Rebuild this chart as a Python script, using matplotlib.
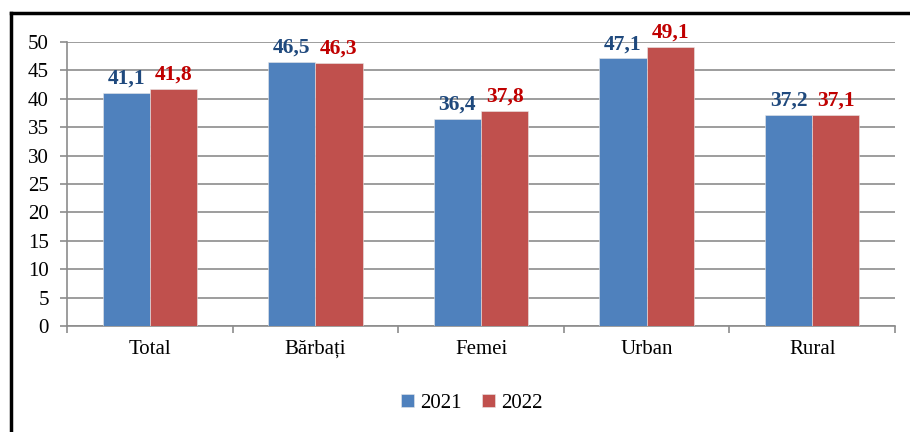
import matplotlib
matplotlib.use("Agg")
import matplotlib.pyplot as plt
import numpy as np
from matplotlib.lines import Line2D

categories = ["Total", "Bărbați", "Femei", "Urban", "Rural"]
series_names = ["2021", "2022"]
values_2021 = [41.1, 46.5, 36.4, 47.1, 37.2]
values_2022 = [41.8, 46.3, 37.8, 49.1, 37.1]
yticks = [0, 5, 10, 15, 20, 25, 30, 35, 40, 45, 50]

bar_colors = ["#4F81BD", "#C0504D"]
label_colors = ["#1F497D", "#C00000"]

plt.rcParams['font.family'] = ['Liberation Serif', 'DejaVu Serif']

fig = plt.figure(figsize=(9.10, 4.32), dpi=100)
ax = fig.add_axes([67/910, 1 - 326/432, (895-67)/910, (326-42)/432])

x = np.arange(len(categories))
w = 0.285
for i, (vals, name) in enumerate([(values_2021, series_names[0]), (values_2022, series_names[1])]):
    off = (i - 0.5) * w
    ax.bar(x + off, vals, width=w, color=bar_colors[i], edgecolor="#e8e8e8",
           linewidth=0.4, label=name, zorder=3)
    for xi, v in zip(x + off, vals):
        ax.text(xi, v + 0.75, f"{v:.1f}".replace(".", ","), ha="center", va="bottom",
                fontsize=15.5, fontweight="bold", color=label_colors[i], zorder=4)

ax.set_xlim(-0.5, len(categories) - 0.5)
ax.set_ylim(0, 50)
ax.set_yticks(yticks)
ax.set_yticklabels([str(t) for t in yticks], fontsize=15)
ax.yaxis.grid(True, color="#8c8c8c", linewidth=1.2, zorder=0)
ax.set_axisbelow(True)

ax.set_xticks(np.arange(-0.5, len(categories), 1.0))
ax.set_xticklabels([])
ax.set_xticks(x, minor=True)
ax.set_xticklabels(categories, minor=True, fontsize=15)
ax.tick_params(axis="x", which="major", direction="out", length=5, color="#8c8c8c", width=1.2)
ax.tick_params(axis="x", which="minor", length=0, pad=10)
ax.tick_params(axis="y", direction="out", length=5, color="#8c8c8c", width=1.2, pad=8)

for s in ["top", "right"]:
    ax.spines[s].set_visible(False)
for s in ["left", "bottom"]:
    ax.spines[s].set_color("#8c8c8c")
    ax.spines[s].set_linewidth(1.2)

fig.legend(loc="center", bbox_to_anchor=(472/910, 1 - 403/432), ncol=2, frameon=False,
           fontsize=15, handlelength=0.6, handleheight=0.6, handletextpad=0.3,
           columnspacing=1.0)

# outer frame (left and top lines)
fig.add_artist(Line2D([11/910, 11/910], [0, 1 - 13/432], color="black", linewidth=2.5,
                      transform=fig.transFigure))
fig.add_artist(Line2D([11/910, 1], [1 - 13/432, 1 - 13/432], color="black", linewidth=2.5,
                      transform=fig.transFigure))

fig.savefig("out.png", dpi=100)
